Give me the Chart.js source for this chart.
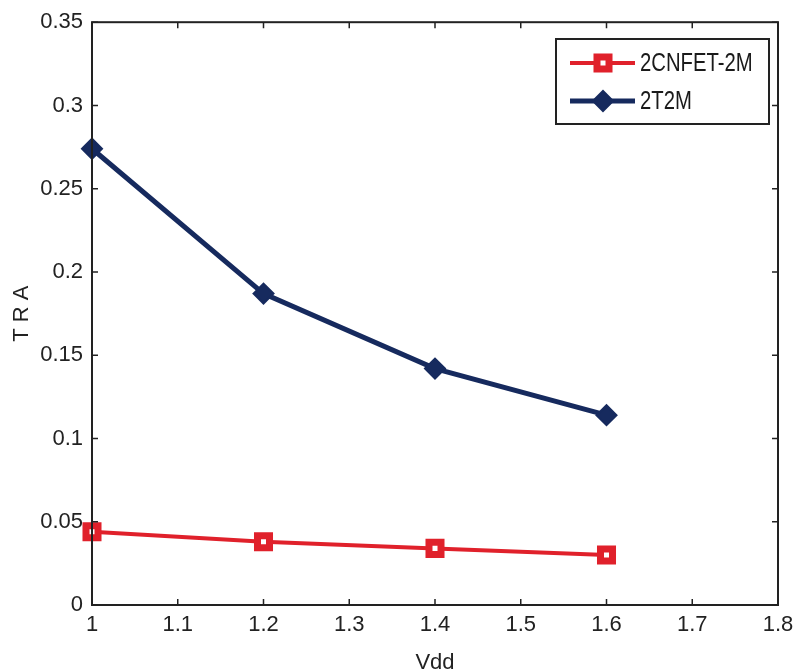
<!DOCTYPE html>
<html>
<head>
<meta charset="utf-8">
<script src="https://cdn.jsdelivr.net/npm/chart.js@4.4.1/dist/chart.umd.min.js"></script>
<style>
html,body{margin:0;padding:0;background:#fff;}
#wrap{width:795px;height:672px;position:relative;}
</style>
</head>
<body>
<div id="wrap"><canvas id="c" width="795" height="672"></canvas></div>
<script>
const vdd = [1.0, 1.2, 1.4, 1.6];
const cnfet2m = [0.044, 0.038, 0.034, 0.030];
const t2t2m = [0.274, 0.187, 0.142, 0.114];
const seriesNames = ['2CNFET-2M', '2T2M'];
const xLabel = 'Vdd';
const yLabel = 'T R A';

const RED = '#e0212b';
const NAVY = '#162a5e';
const FONT = '"Liberation Sans", Arial, sans-serif';
const FS = 22;

function pts(xs, ys){ return xs.map((x,i)=>({x:x, y:ys[i]})); }
function fmt(v){ return String(parseFloat(Number(v).toFixed(2))); }

const frame = {
  id:'frame',
  afterDatasetsDraw(chart){
    const ctx = chart.ctx, a = chart.chartArea;
    const xs = chart.scales.x, ys = chart.scales.y;
    ctx.save();
    ctx.strokeStyle = '#222';
    ctx.lineWidth = 2;
    ctx.strokeRect(a.left, a.top, a.right - a.left, a.bottom - a.top);
    ctx.lineWidth = 1.5;
    const L = 6;
    xs.ticks.forEach(t=>{
      const px = xs.getPixelForValue(t.value);
      ctx.beginPath();
      ctx.moveTo(px, a.bottom); ctx.lineTo(px, a.bottom - L);
      ctx.moveTo(px, a.top); ctx.lineTo(px, a.top + L);
      ctx.stroke();
    });
    ys.ticks.forEach(t=>{
      const py = ys.getPixelForValue(t.value);
      ctx.beginPath();
      ctx.moveTo(a.left, py); ctx.lineTo(a.left + L, py);
      ctx.moveTo(a.right, py); ctx.lineTo(a.right - L, py);
      ctx.stroke();
    });
    ctx.restore();
  },
  afterDraw(chart){
    const ctx = chart.ctx;
    const bx = 556, by = 39, bw = 213, bh = 85;
    ctx.save();
    ctx.fillStyle = '#fff';
    ctx.fillRect(bx, by, bw, bh);
    ctx.strokeStyle = '#222';
    ctx.lineWidth = 2;
    ctx.strokeRect(bx, by, bw, bh);
    const rows = [63, 101];
    chart.data.datasets.forEach((ds, i)=>{
      const y = rows[i];
      ctx.strokeStyle = ds.borderColor;
      ctx.lineWidth = ds.borderWidth;
      ctx.beginPath(); ctx.moveTo(570, y); ctx.lineTo(635, y); ctx.stroke();
      ctx.fillStyle = ds.pointBackgroundColor;
      ctx.strokeStyle = ds.pointBorderColor;
      ctx.lineWidth = ds.pointBorderWidth;
      Chart.helpers.drawPoint(ctx, {
        pointStyle: ds.pointStyle, radius: ds.pointRadius, rotation: 0,
        borderWidth: ds.pointBorderWidth
      }, 603, y);
      ctx.save();
      ctx.fillStyle = '#1a1a1a';
      ctx.font = '26px ' + FONT;
      ctx.textBaseline = 'middle';
      ctx.textAlign = 'left';
      ctx.translate(640, y + 1);
      ctx.scale(0.78, 1);
      ctx.fillText(ds.label, 0, 0);
      ctx.restore();
    });
    ctx.restore();
  }
};

new Chart(document.getElementById('c'), {
  type: 'line',
  data: {
    datasets: [
      {
        label: seriesNames[0],
        data: pts(vdd, cnfet2m),
        borderColor: RED,
        borderWidth: 4,
        pointStyle: 'rect',
        pointRadius: 8.5,
        pointBorderWidth: 7,
        pointBackgroundColor: '#fff',
        pointBorderColor: RED,
        clip: false
      },
      {
        label: seriesNames[1],
        data: pts(vdd, t2t2m),
        borderColor: NAVY,
        borderWidth: 5,
        pointStyle: 'rectRot',
        pointRadius: 10,
        pointBorderWidth: 2,
        pointBackgroundColor: NAVY,
        pointBorderColor: NAVY,
        clip: false
      }
    ]
  },
  options: {
    responsive: false,
    animation: false,
    layout: { padding: { left: 0, top: 21, right: 17, bottom: 0 } },
    plugins: { legend: { display: false }, tooltip: { enabled: false } },
    scales: {
      x: {
        type: 'linear',
        min: 1, max: 1.8,
        ticks: { stepSize: 0.1, callback: v => fmt(v), color: '#222', padding: 7,
                 font: { family: FONT, size: FS }, maxRotation: 0, autoSkip: false },
        grid: { display: false, drawTicks: false },
        border: { display: false },
        title: { display: true, text: xLabel, color: '#222', padding: { top: 0, bottom: -4 },
                 font: { family: FONT, size: FS } },
        afterFit(s){ s.height = 67; s.paddingRight = 0; s.paddingLeft = 0; }
      },
      y: {
        type: 'linear',
        min: 0, max: 0.35,
        ticks: { stepSize: 0.05, callback: v => fmt(v), color: '#222', padding: 9,
                 font: { family: FONT, size: FS }, autoSkip: false },
        grid: { display: false, drawTicks: false },
        border: { display: false },
        title: { display: true, text: yLabel, color: '#222', padding: { top: 9, bottom: 0 },
                 font: { family: FONT, size: FS } },
        afterFit(s){ s.width = 92; }
      }
    }
  },
  plugins: [frame]
});
</script>
</body>
</html>
